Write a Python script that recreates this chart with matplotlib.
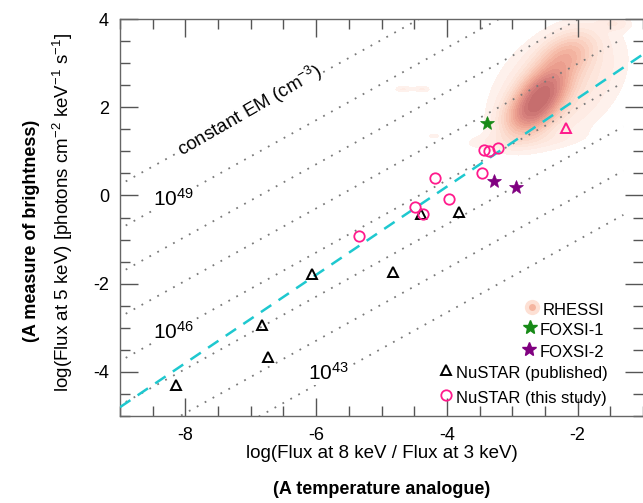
import numpy as np
import matplotlib
matplotlib.use("Agg")
import matplotlib.pyplot as plt
from matplotlib.ticker import MultipleLocator
from matplotlib.colors import LinearSegmentedColormap, BoundaryNorm

plt.rcParams['font.family'] = ['Liberation Sans', 'DejaVu Sans']
plt.rcParams['mathtext.fontset'] = 'custom'
plt.rcParams['mathtext.rm'] = 'Liberation Sans'
plt.rcParams['mathtext.it'] = 'Liberation Sans:italic'
plt.rcParams['mathtext.bf'] = 'Liberation Sans:bold'
plt.rcParams['axes.unicode_minus'] = False

# --- data ---
# NuSTAR (published), black open triangles
nustar_pub_x = [-8.14, -6.83, -6.73, -6.07, -4.83, -4.39, -3.81]
nustar_pub_y = [-4.29, -2.93, -3.67, -1.77, -1.73, -0.42, -0.38]
# the single magenta triangle
nustar_tri_x = [-2.18]
nustar_tri_y = [1.54]
# NuSTAR (this study), pink open circles
nustar_new_x = [-5.34, -4.49, -4.36, -4.18, -3.97, -3.47, -3.43, -3.35, -3.22]
nustar_new_y = [-0.93, -0.27, -0.42, 0.39, -0.09, 0.52, 1.04, 1.01, 1.07]
# FOXSI
foxsi1_x = [-3.39]
foxsi1_y = [1.64]
foxsi2_x = [-3.28, -2.94]
foxsi2_y = [0.32, 0.20]

# RHESSI density, described as a few elongated blobs
rhessi_cx = [-2.68, -2.5, -2.2, -2.3, -2.9, -4.67, -4.38, -4.2, -1.45]
rhessi_cy = [1.95, 2.4, 3.1, 2.5, 1.25, 2.41, 2.41, 1.35, 3.9]
rhessi_major = [0.33, 0.33, 0.33, 0.85, 0.55, 0.09, 0.09, 0.07, 0.15]
rhessi_minor = [0.19, 0.19, 0.2, 0.5, 0.12, 0.05, 0.05, 0.04, 0.1]
rhessi_angle = [65, 65, 60, 65, 5, 0, 0, 0, 0]
rhessi_weight = [1.0, 0.95, 0.4, 0.1, 0.035, 0.04, 0.04, 0.03, 0.05]

# constant emission-measure guide lines
em_exponents = [43, 44, 45, 46, 47, 48, 49, 50]
em_slope = 0.82
em_x_end = -1.3
em_y_end_43 = -0.44  # y of the 1e43 line at its right end
em_labels = {49: (-8.49, -0.23), 46: (-8.49, -3.24), 43: (-6.12, -4.19)}

# dashed fit line
fit_slope = 1.0
fit_intercept = 4.2

xlim = (-9, -1)
ylim = (-5, 4)

fig = plt.figure(figsize=(6.43, 5.03), dpi=100)
ax = fig.add_axes([120 / 643, 87 / 503, 523 / 643, 397 / 503])
ax.set_xlim(*xlim)
ax.set_ylim(*ylim)

# RHESSI density
gx, gy = np.meshgrid(np.linspace(-9, -1, 161), np.linspace(-5, 4, 181))
dens = np.zeros_like(gx)
for cx, cy, a, b, ang, w in zip(rhessi_cx, rhessi_cy, rhessi_major, rhessi_minor,
                                rhessi_angle, rhessi_weight):
    t = np.deg2rad(ang)
    u = (gx - cx) * np.cos(t) + (gy - cy) * np.sin(t)
    v = -(gx - cx) * np.sin(t) + (gy - cy) * np.cos(t)
    dens += w * np.exp(-0.5 * ((u / a) ** 2 + (v / b) ** 2))
cmap = LinearSegmentedColormap.from_list(
    "rh", ["#fef1ec", "#fde3d8", "#fad0c0", "#f5b8a4", "#eb9e8e", "#da8580", "#c66e6e"])
levels = [0.018, 0.035, 0.06, 0.09, 0.13, 0.18, 0.24, 0.31, 0.39, 0.48,
          0.58, 0.69, 0.81, 0.95, 1.1, 1.3, 5.0]
ax.contourf(gx, gy, dens, levels=levels, cmap=cmap,
            norm=BoundaryNorm(levels, cmap.N), zorder=1)

# constant EM lines
xx = np.array([-10.0, em_x_end])
for e in em_exponents:
    yy = em_y_end_43 + (e - 43) + em_slope * (xx - em_x_end)
    ax.plot(xx, yy, color='#7a7a7a', lw=1.3, ls=(0, (1, 4)), zorder=2)
for e, (lx, ly) in em_labels.items():
    ax.text(lx, ly, r'10$^{%d}$' % e, fontsize=15, ha='left', va='baseline',
            zorder=3, bbox=dict(facecolor='white', edgecolor='none', pad=0.5))
ax.text(-7.01, 1.92, r'constant EM (cm$^{-3}$)', fontsize=13.5, rotation=30,
        ha='center', va='center', rotation_mode='anchor', zorder=3,
        bbox=dict(facecolor='white', edgecolor='none', pad=0.3))

# fit line
fx = np.array(xlim)
ax.plot(fx, fit_slope * fx + fit_intercept, color='#1ec8cf', lw=1.8,
        ls=(0, (5, 3.5)), zorder=4)

# points
ax.plot(nustar_pub_x, nustar_pub_y, ls='none', marker='^', ms=6.5, mfc='none',
        mec='black', mew=1.4, zorder=5)
ax.plot(nustar_tri_x, nustar_tri_y, ls='none', marker='^', ms=6.5, mfc='none',
        mec='#ff1a8c', mew=1.4, zorder=5)
ax.plot(nustar_new_x, nustar_new_y, ls='none', marker='o', ms=7.5, mfc='none',
        mec='#ff1a8c', mew=1.3, zorder=6)
ax.plot(foxsi1_x, foxsi1_y, ls='none', marker='*', ms=10, color='#178a17',
        mew=0.5, zorder=6)
ax.plot(foxsi2_x, foxsi2_y, ls='none', marker='*', ms=10, color='#800080',
        mew=0.5, zorder=6)

# axes styling
ax.xaxis.set_major_locator(MultipleLocator(2))
ax.yaxis.set_major_locator(MultipleLocator(2))
ax.xaxis.set_minor_locator(MultipleLocator(0.5))
ax.yaxis.set_minor_locator(MultipleLocator(0.5))
ax.tick_params(which='both', direction='in', top=True, right=True,
               color='#555555', width=1.0, labelsize=13)
ax.tick_params(which='major', length=13, pad=8)
ax.tick_params(which='minor', length=7)
for s in ax.spines.values():
    s.set_color('#666666')
    s.set_linewidth(1.0)
ax.spines['right'].set_visible(False)

fig.text(382 / 643, 1 - 453 / 503, 'log(Flux at 8 keV / Flux at 3 keV)',
         fontsize=13.5, ha='center', va='center')
fig.text(382 / 643, 1 - 489 / 503, '(A temperature analogue)',
         fontsize=13, fontweight='bold', ha='center', va='center')
fig.text(63 / 643, 1 - 212 / 503,
         r'log(Flux at 5 keV) [photons cm$^{-2}$ keV$^{-1}$ s$^{-1}$]',
         fontsize=13.5, rotation=90, ha='center', va='center')
fig.text(32 / 643, 1 - 231 / 503, '(A measure of brightness)',
         fontsize=13, fontweight='bold', rotation=90, ha='center', va='center')

# legend, right-aligned entries with marker just left of each label
leg_labels = ['RHESSI', 'FOXSI-1', 'FOXSI-2', 'NuSTAR (published)', 'NuSTAR (this study)']
leg_rows_px = [309, 329, 351, 372, 397]
leg_right_px = [604, 604, 604, 608, 607]
fig.canvas.draw()
renderer = fig.canvas.get_renderer()
inv = ax.transAxes.inverted()
for i, lab in enumerate(leg_labels):
    px = leg_right_px[i]
    py = 503 - leg_rows_px[i]
    xa, ya = inv.transform((px, py))
    t = ax.text(xa, ya, lab, transform=ax.transAxes, fontsize=12,
                ha='right', va='center_baseline', zorder=7)
    bb = t.get_window_extent(renderer)
    mx, my = inv.transform((bb.x0 - 10, py + 2))
    if lab == 'RHESSI':
        ax.plot([mx], [my], transform=ax.transAxes, marker='o', ms=11,
                color='#fde0d4', mec='none', clip_on=False, zorder=7)
        ax.plot([mx], [my], transform=ax.transAxes, marker='o', ms=5,
                color='#f5b5a0', mec='none', clip_on=False, zorder=7)
    elif lab == 'FOXSI-1':
        ax.plot([mx], [my], transform=ax.transAxes, marker='*', ms=10,
                color='#178a17', clip_on=False, zorder=7)
    elif lab == 'FOXSI-2':
        ax.plot([mx], [my], transform=ax.transAxes, marker='*', ms=10,
                color='#800080', clip_on=False, zorder=7)
    elif lab == 'NuSTAR (published)':
        ax.plot([mx], [my], transform=ax.transAxes, marker='^', ms=6.5,
                mfc='none', mec='black', mew=1.4, clip_on=False, zorder=7)
    else:
        ax.plot([mx], [my], transform=ax.transAxes, marker='o', ms=7.5,
                mfc='none', mec='#ff1a8c', mew=1.3, clip_on=False, zorder=7)

fig.savefig('out.png', dpi=100)
